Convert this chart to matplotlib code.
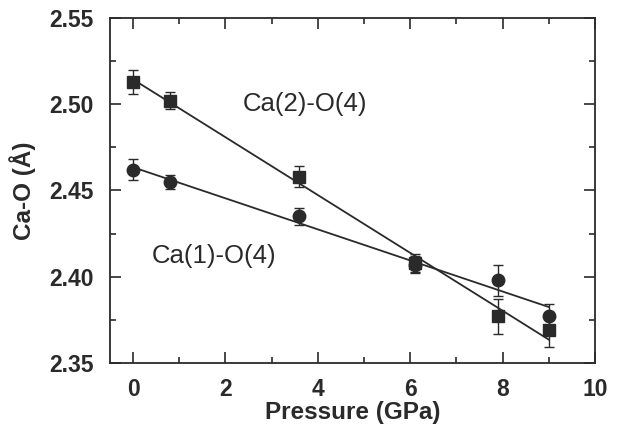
import numpy as np
import matplotlib
matplotlib.use("Agg")
import matplotlib.pyplot as plt
from matplotlib.ticker import MultipleLocator

plt.rcParams['font.family'] = ['Liberation Sans', 'DejaVu Sans']

# pressure points (GPa)
pressure = [0.0, 0.8, 3.6, 6.1, 7.9, 9.0]

# Ca(2)-O(4) distances, squares
ca2_o4 = [2.513, 2.502, 2.458, 2.408, 2.377, 2.369]
ca2_err = [0.007, 0.005, 0.006, 0.005, 0.010, 0.010]

# Ca(1)-O(4) distances, circles
ca1_o4 = [2.462, 2.455, 2.435, 2.407, 2.398, 2.377]
ca1_err = [0.006, 0.004, 0.005, 0.005, 0.009, 0.007]

x_ticks = [0, 2, 4, 6, 8, 10]
y_ticks = [2.35, 2.40, 2.45, 2.50, 2.55]

ink = '#2a2a2a'

fig = plt.figure(figsize=(6.23, 4.28), dpi=100)
ax = fig.add_axes([0.1766, 0.152, 0.7784, 0.806])

# linear fits drawn over the measured range
xfit = np.array([min(pressure), max(pressure)])
for yv in (ca2_o4, ca1_o4):
    coef = np.polyfit(pressure, yv, 1)
    ax.plot(xfit, np.polyval(coef, xfit), color=ink, lw=1.3, zorder=2)

ax.errorbar(pressure, ca2_o4, yerr=ca2_err, fmt='s', ms=9, color=ink,
            ecolor=ink, elinewidth=1.0, capsize=3.5, capthick=1.0, zorder=3)
ax.errorbar(pressure, ca1_o4, yerr=ca1_err, fmt='o', ms=9, color=ink,
            ecolor=ink, elinewidth=1.0, capsize=3.5, capthick=1.0, zorder=3)

ax.text(2.37, 2.50, 'Ca(2)-O(4)', fontsize=18.5, color=ink, va='center')
ax.text(0.41, 2.412, 'Ca(1)-O(4)', fontsize=18.5, color=ink, va='center')

ax.set_xlim(-0.5, 10)
ax.set_ylim(2.35, 2.55)
ax.set_xticks(x_ticks)
ax.set_yticks(y_ticks)
ax.set_yticklabels([f'{v:.2f}' for v in y_ticks])
ax.xaxis.set_minor_locator(MultipleLocator(1))
ax.yaxis.set_minor_locator(MultipleLocator(0.025))

ax.tick_params(which='both', direction='in', top=True, right=True,
               colors=ink, width=1.2)
ax.tick_params(which='major', length=8, labelsize=16.5)
ax.tick_params(which='minor', length=4.5)
ax.tick_params(axis='x', which='major', pad=11)
ax.tick_params(axis='y', which='major', pad=12)
for lab in ax.get_xticklabels() + ax.get_yticklabels():
    lab.set_fontweight('semibold')

for sp in ax.spines.values():
    sp.set_linewidth(1.3)
    sp.set_color(ink)

ax.set_xlabel('Pressure (GPa)', fontsize=17.5, fontweight='bold', color=ink, labelpad=0)
ax.set_ylabel('Ca-O (Å)', fontsize=17.5, fontweight='bold', color=ink, labelpad=9)

fig.savefig('out.png', dpi=100)
